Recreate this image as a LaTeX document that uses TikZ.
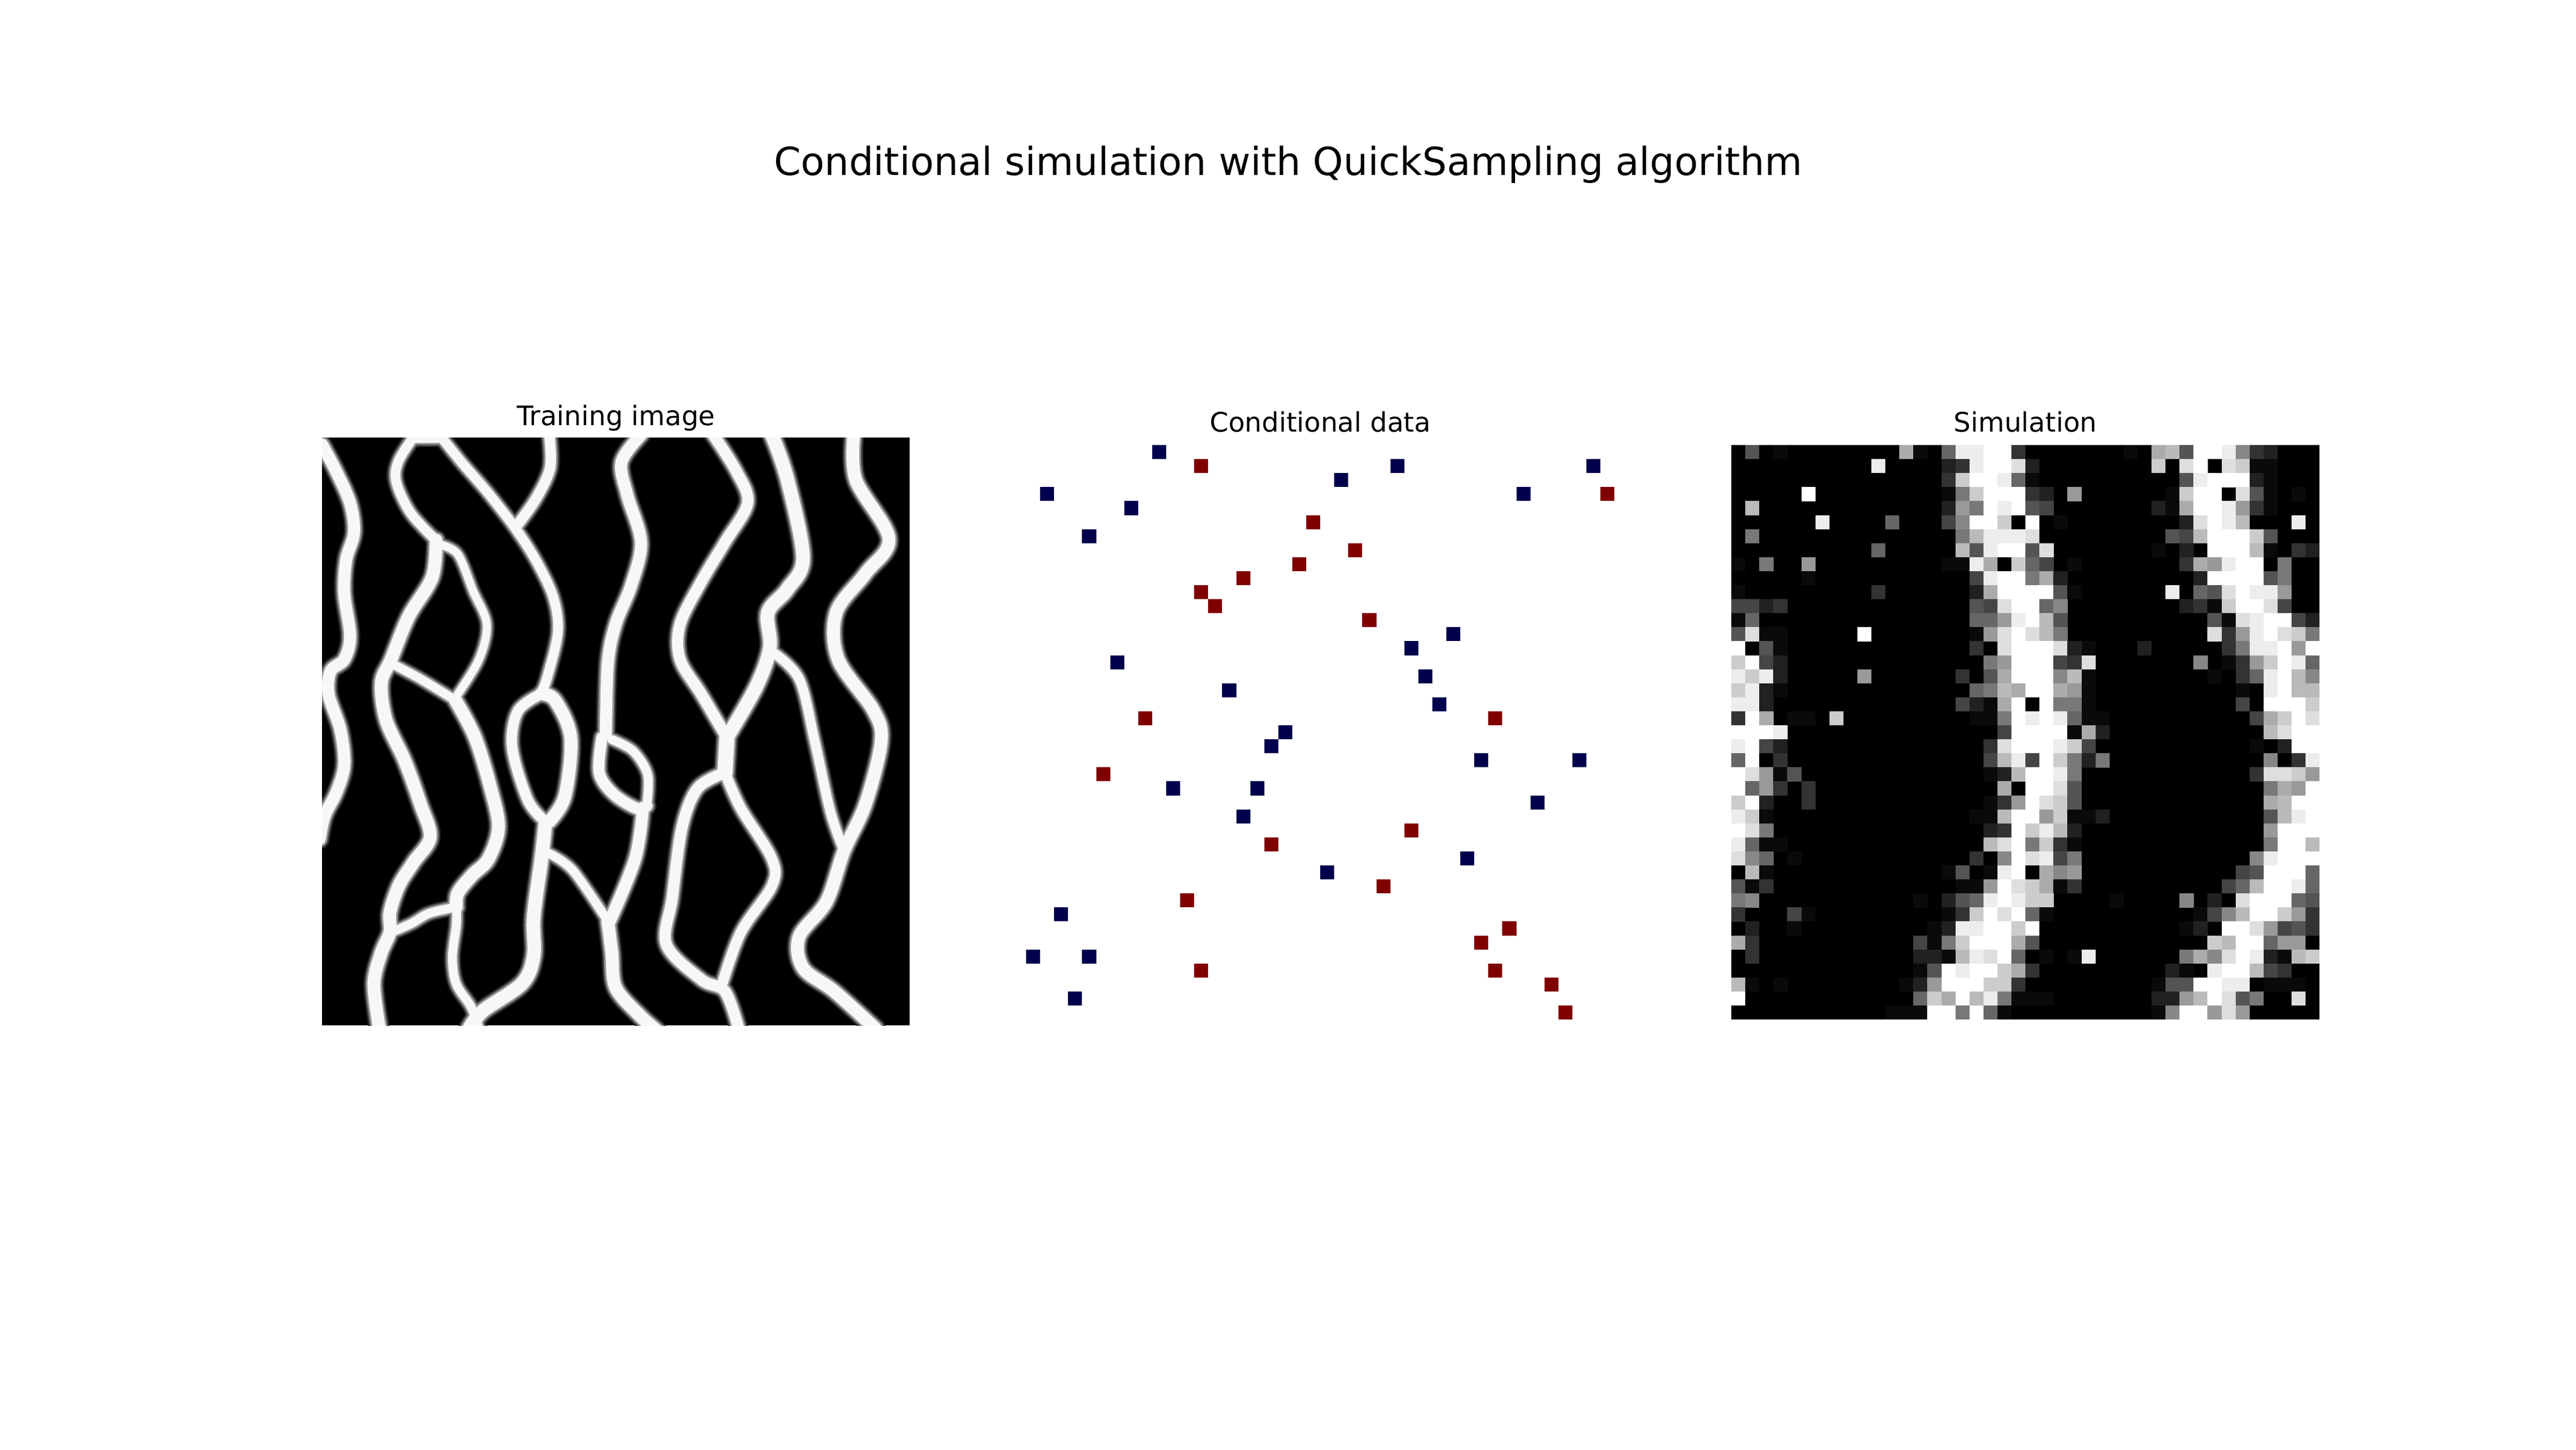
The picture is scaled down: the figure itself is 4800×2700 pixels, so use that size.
\documentclass[tikz,border=0pt]{standalone}
\usepackage{fontspec}
\setmainfont{DejaVu Sans}
\definecolor{lowblue}{HTML}{00004C}
\definecolor{highred}{HTML}{800000}
\newcount\simcol
\newcount\simrowno
\newcommand{\simscan}[1]{%
  \ifx#1\relax\else
    \ifnum"#1>0
      \pgfmathsetmacro{\xa}{3226+26.1*\the\simcol}%
      \pgfmathsetmacro{\ya}{829+26.1*\the\simrowno}%
      \ifnum"#1=1 \def\simtone{4}\else\edef\simtone{\the\numexpr"#1*100/15\relax}\fi
      \fill[fill=white!\simtone!black] (\xa,\ya) rectangle ++(26.3,26.3);%
    \fi
    \advance\simcol by 1
    \expandafter\simscan
  \fi}
\newcommand{\simline}[1]{\simcol=0 \simscan#1\relax\advance\simrowno by 1 }
\newcommand{\st}[2]{\draw[line width={(#1*0.7276+\strandextra)*0.2409pt},color=\strandcol,line cap=round,line join=round] plot[smooth,tension=0.55] coordinates {#2};}
\newcommand{\allstrands}{%
 \st{32}{(28,40)(65,110)(100,190)(110,265)(90,335)(85,420)(100,530)(85,590)(50,620)(45,680)(75,770)(85,860)(65,930)(35,990)(22,1050)}
 \st{26}{(270,10)(225,80)(218,135)(255,215)(320,285)}
 \st{26}{(325,10)(385,85)(450,160)(520,250)(575,335)(620,430)(632,520)(605,635)(590,675)}
 \st{30}{(270,22)(325,22)}
 \st{28}{(610,15)(612,100)(575,180)(525,250)}
 \st{34}{(320,285)(310,380)(250,480)(205,590)(180,650)(192,745)(240,850)(280,960)(305,1045)(262,1110)(225,1169)(202,1238)(202,1288)(179,1343)(161,1421)(175,1535)}
 \st{22}{(325,295)(375,320)(415,415)(450,500)(430,590)(375,680)}
 \st{24}{(205,600)(280,640)(370,695)}
 \st{34}{(370,695)(420,790)(460,920)(480,1020)(454,1101)(413,1142)(376,1188)(372,1224)}
 \st{24}{(372,1224)(303,1240)(257,1266)(207,1288)}
 \st{24}{(372,1224)(372,1270)(362,1353)(372,1421)(410,1480)(430,1535)}
 \st{28}{(590,678)(530,722)(515,815)(555,950)(600,1005)}
 \st{34}{(590,678)(625,695)(665,790)(650,940)(610,1005)}
 \st{36}{(600,1010)(590,1100)(570,1250)(570,1350)(540,1420)(440,1490)(405,1535)}
 \st{24}{(605,1085)(670,1130)(760,1260)}
 \st{34}{(760,1260)(770,1340)(780,1430)(840,1500)(885,1540)}
 \st{32}{(845,15)(795,85)(810,170)(845,290)(820,400)(780,500)(760,600)(755,780)}
 \st{24}{(770,795)(825,825)(862,885)(860,960)}
 \st{30}{(745,790)(738,880)(775,935)(835,972)(860,965)}
 \st{32}{(850,970)(830,1100)(765,1260)}
 \st{30}{(1030,15)(1090,110)(1118,190)(1060,290)(1000,390)(945,500)(945,590)(1000,680)(1065,790)}
 \st{36}{(1180,15)(1220,130)(1260,330)(1220,410)(1170,470)(1175,560)(1140,660)(1065,790)}
 \st{40}{(1065,790)(1060,880)}
 \st{30}{(1060,880)(990,920)(950,1020)(925,1200)(910,1320)(1000,1410)(1060,1440)(1095,1535)}
 \st{28}{(1060,880)(1100,970)(1180,1100)(1180,1170)(1100,1290)(1050,1430)}
 \st{26}{(1180,570)(1250,640)(1290,800)(1330,980)(1365,1080)}
 \st{34}{(1390,15)(1395,130)(1480,280)(1420,370)(1345,470)(1350,590)(1440,720)(1460,800)(1420,960)(1365,1080)(1320,1210)(1250,1300)(1260,1380)(1340,1440)(1445,1535)}
}
\begin{document}
\begin{tikzpicture}[x=0.2409pt,y=-0.2409pt,
  paneltitle/.style={anchor=base,inner sep=0pt,font=\fontsize{12.05}{14}\selectfont},
  mainttitle/.style={anchor=base,inner sep=0pt,font=\fontsize{17.35}{20}\selectfont},
  lowcell/.style={fill=lowblue},
  highcell/.style={fill=highred}]
\useasboundingbox (0,0) rectangle (4800,2700);
\fill[white] (0,0) rectangle (4800,2700);
\node[mainttitle] (suptitle) at (2400,326) {Conditional simulation with QuickSampling algorithm};
\node[paneltitle] (trainingtitle) at (1148,792) {Training image};
\node[paneltitle] (datatitle) at (2460,804) {Conditional data};
\node[paneltitle] (simtitle) at (3774,804) {Simulation};
% Training image
\begin{scope}
  \clip (600,815) rectangle (1695,1910);
  \fill[black] (600,815) rectangle (1695,1910);
  \begin{scope}[shift={(600,815)},x=0.7276*0.2409pt,y=-0.7276*0.2409pt,shift={(-28,-22)}]
    \def\strandextra{15}\def\strandcol{black!88!white}\allstrands
    \def\strandextra{10}\def\strandcol{black!68!white}\allstrands
    \def\strandextra{5}\def\strandcol{black!40!white}\allstrands
    \def\strandextra{-1}\def\strandcol{black!3!white}\allstrands
  \end{scope}
\end{scope}
% Conditional data
\foreach \c/\r in {9/0,26/1,40/1,22/2,1/3,35/3,7/4,4/6,30/13,27/14,6/15,28/16,14/17,29/18,18/20,17/21,32/22,39/22,10/24,16/24,36/25,15/26,31/29,21/30,2/33,0/36,4/36,3/39}
  \fill[lowcell] ({1912+26.1*\c},{829+26.1*\r}) rectangle ++(26.1,26.1);
\foreach \c/\r in {12/1,41/3,20/5,23/7,19/8,15/9,12/10,13/11,24/12,33/19,8/19,5/23,27/27,17/28,25/31,11/32,34/34,32/35,12/37,33/37,37/38,38/40}
  \fill[highcell] ({1912+26.1*\c},{829+26.1*\r}) rectangle ++(26.1,26.1);
% Simulation
\fill[black] (3226,829) rectangle (4322,1899);
\simrowno=0
\simline{050100000000A106EEFF3000000010AB5FFE832000}
\simline{0000000000E000023EFFD200000000C0DF0DC11000}
\simline{0000000000000003CFFE6100000000005EFFF21000}
\simline{00000F00000000017CFFF32090000001CFF0D51010}
\simline{0B0000000000000297FEF54000000021AFFE931000}
\simline{000000E0000600048FFC0F01000000002DFEB000E0}
\simline{07000000000000007BEEED00000000054BFFFC5000}
\simline{0000000000600000B5EFF5D00000001020FFFB1032}
\simline{10700900000000011EA0C640100000003A9EFF0700}
\simline{000001000000000004EFF7A20000000002FFFF5700}
\simline{100000000030000002AFFFF51000000E065DFEE900}
\simline{4423000000000000054DFF6800000000231CFFD400}
\simline{16000000000000000669EFB5000000000051DEFF42}
\simline{5D1100000F000000019DFDB70000000000D39EFDC7}
\simline{F051000000000000030DFFFD2100020000037EEF9F}
\simline{CF420000000000000079FFF43D000000080139CFE6}
\simline{ECE2000009000000305AFFF8B1000000001036EFB8}
\simline{CE21000000000000067BAFFA91000000000010EFBB}
\simline{EE20000000000000421AF0F771000000000040FFFC}
\simline{3FA0110C000000000117FEFE61100000000004ACFD}
\simline{FFFE0000000000000004FFFF1A200000000000BDFF}
\simline{EF42000000000000003DFFFEC400000000000102FF}
\simline{6F03000000000000004BE4FC72700000000000803E}
\simline{FD915000000000000012BFFE70000000000003DDC9}
\simline{F693030000000000000A0FFD500000000000007A9F}
\simline{CF2003000000000000139FDC50000000000000ABFF}
\simline{EC10000000000000011BFF9C112000000000005BEF}
\simline{FD700000000000000023FCEB200000000000009FFF}
\simline{E61100000000000000BDF7C3100000000000007FFB}
\simline{D8601000000000000308FDE470000000000008EFFF}
\simline{0B10000000000001501EF0A890000000000045FFF6}
\simline{5130000000000000119FDCA13000000000046BFFE6}
\simline{780000000000010256EFECC0000100008020DFFF65}
\simline{30004100000000013CFDF610000000000148BFFC93}
\simline{0200100000000012EEFFCF0000000000120FFD9453}
\simline{A300000000000417CFFFA5000000000000CBFF6990}
\simline{0300000000000221BEDF60101E0000007A8DFE21BC}
\simline{000000000000015FEFFCA3000000000210EFFB4300}
\simline{B10100000000129FFFCC3000000000155FFEE01110}
\simline{F0000000000006CAFBE71110000000229BFD5700D0}
\simline{00000000000111FF7F61000000000018FF9D900000}
\end{tikzpicture}
\end{document}
